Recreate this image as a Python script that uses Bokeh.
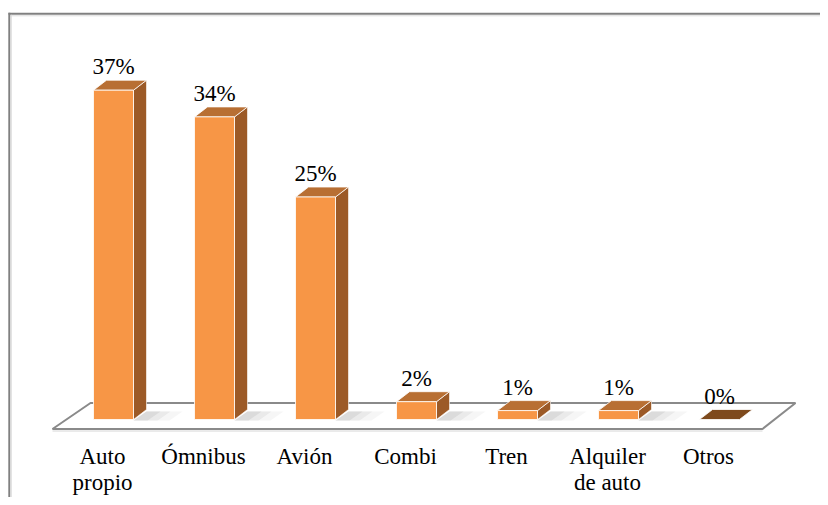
from bokeh.plotting import figure
from bokeh.models import Range1d
from bokeh.core.properties import value
from bokeh.embed import file_html
from bokeh.resources import INLINE

# ---- data ----
categories = ["Auto\npropio", "Ómnibus", "Avión", "Combi", "Tren", "Alquiler\nde auto", "Otros"]
percent = [37, 34, 25, 2, 1, 1, 0]
value_labels = ["37%", "34%", "25%", "2%", "1%", "1%", "0%"]

# ---- layout / styling constants ----
W, H = 820, 497
CAT_PX = 101.0      # pixels between category centres
PCT_PX = 8.9        # pixels per percentage point
X0 = -113 / CAT_PX
X1 = X0 + W / CAT_PX
Y0 = -(H - 419) / PCT_PX
Y1 = Y0 + H / PCT_PX


def dx(px):
    return px / CAT_PX


def dy(px):
    return px / PCT_PX


def fx(px):  # figure pixel (from left) -> data x
    return X0 + dx(px)


def fy(py):  # figure pixel (from top) -> data y
    return Y0 + dy(H - py)


HALF = dx(20)
DX = dx(13)
DY = dy(10)

FRONT = "#F79646"
TOP = "#B86F33"
SIDE = "#9C5A27"
ZERO_TOP = "#7E4A1D"
FONT = value("Liberation Serif")

p = figure(width=W, height=H, x_range=Range1d(X0, X1), y_range=Range1d(Y0, Y1),
           x_axis_type=None, y_axis_type=None, toolbar_location=None,
           output_backend="svg", min_border=0, outline_line_color=None,
           background_fill_color="white", border_fill_color="white")
p.grid.visible = False

# chart border (top and left visible)
p.line([fx(8), fx(W)], [fy(13.3), fy(13.3)], line_color="#808080", line_width=2)
p.line([fx(10), fx(W)], [fy(15.3), fy(15.3)], line_color="#dcdcdc", line_width=1)
p.line([fx(8.8), fx(8.8)], [fy(12.3), fy(H)], line_color="#808080", line_width=2)
p.line([fx(10.8), fx(10.8)], [fy(14.3), fy(H)], line_color="#dcdcdc", line_width=1)

# floor
n = len(percent)
floor_x = [-dx(61), -dx(23), (n - 1) + dx(76), (n - 1) + dx(43)]
floor_y = [-dy(9.5), dy(16.5), dy(16.5), -dy(9.5)]
p.patch(floor_x, floor_y, fill_color="white", line_color="#8a8a8a", line_width=2)
p.line([floor_x[0], floor_x[3]], [-dy(11.5), -dy(11.5)], line_color="#d6d6d6", line_width=1)

# shadows
for i, v in enumerate(percent):
    if v <= 0:
        continue
    r = i + HALF
    for w, a in [(36, 0.07), (24, 0.10), (14, 0.14)]:
        p.patch([r, r + DX, r + DX + dx(w), r + dx(w)],
                [-dy(1), DY - dy(2), DY - dy(2), -dy(1)],
                fill_color="#808080", fill_alpha=a, line_color=None)

# bars
front_l, front_r, front_t = [], [], []
top_xs, top_ys, side_xs, side_ys = [], [], [], []
zero_xs, zero_ys = [], []
for i, v in enumerate(percent):
    l, r = i - HALF, i + HALF
    if v > 0:
        front_l.append(l)
        front_r.append(r)
        front_t.append(v)
        top_xs.append([l, r, r + DX, l + DX])
        top_ys.append([v, v, v + DY, v + DY])
        side_xs.append([r, r, r + DX, r + DX])
        side_ys.append([0, v, v + DY, DY])
    else:
        zero_xs.append([l, r, r + DX, l + DX])
        zero_ys.append([0, 0, DY, DY])

p.patches(side_xs, side_ys, fill_color=SIDE, line_color="white", line_alpha=0.6, line_width=1)
p.patches(top_xs, top_ys, fill_color=TOP, line_color="white", line_alpha=0.8, line_width=1)
p.quad(left=front_l, right=front_r, bottom=0, top=front_t,
       fill_color=FRONT, line_color="white", line_alpha=0.8, line_width=1)
p.patches(zero_xs, zero_ys, fill_color=ZERO_TOP, line_color="white", line_alpha=0.8, line_width=1)

# value labels
p.text(x=list(range(n)), y=[v + dy(23.5) for v in percent], text=value_labels,
       text_align="center", text_baseline="alphabetic", text_font=FONT,
       text_font_size="23px", text_color="#000000")

# category labels
p.text(x=[i - dx(11) for i in range(n)], y=[-dy(24)] * n, text=categories,
       text_align="center", text_baseline="top", text_font=FONT,
       text_font_size="23px", text_color="#000000", text_line_height=1.05)

open("out.html", "w").write(file_html(p, INLINE))
